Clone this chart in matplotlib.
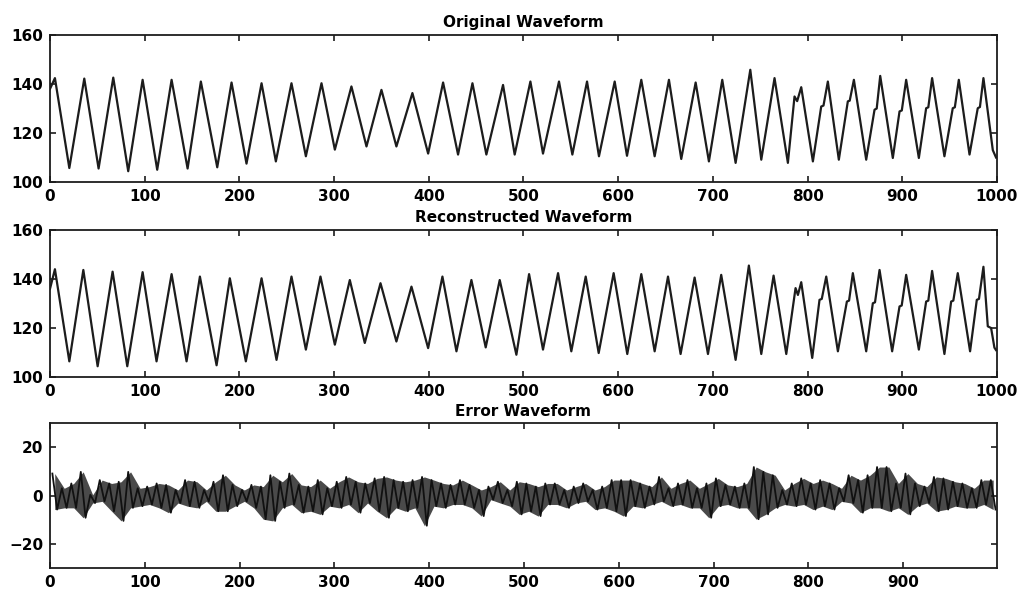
import numpy as np
import matplotlib
matplotlib.use("Agg")
import matplotlib.pyplot as plt
from matplotlib import rc

rc('font', **{'family': 'sans-serif', 'sans-serif': ['DejaVu Sans'], 'size': 11, 'weight': 'bold'})

# Original waveform: turning points (sample, value)
orig_t = [0, 5.2, 20.4, 36.2, 51.3, 66.8, 82.6, 97.8, 113.2, 128.4, 145.3, 159.3, 176.6,
          191.7, 207.5, 223.4, 238.5, 255.0, 270.2, 286.7, 300.8, 318.3, 334.2, 350.0,
          365.8, 382.7, 399.3, 415.1, 430.9, 446.1, 460.8, 478.4, 490.7, 507.3, 520.6,
          537.5, 551.6, 567.1, 579.7, 596.3, 609.3, 624.4, 638.5, 653.6, 666.6, 681.8,
          695.8, 709.9, 724.0, 739.5, 751.1, 765.1, 779.2, 786.2, 789.0, 793.3, 805.6,
          814.4, 816.8, 821.4, 833.0, 842.5, 844.5, 848.9, 861.9, 870.7, 873.0, 876.7,
          890.0, 897.1, 899.5, 904.1, 917.5, 925.2, 927.5, 931.5, 944.5, 953.3, 955.5,
          959.7, 971.0, 979.7, 982.0, 985.7, 995.6, 999.0]
orig_v = [138.0, 142.4, 105.7, 142.2, 105.5, 142.6, 104.4, 141.7, 105.0, 141.7, 105.5,
          141.0, 106.0, 140.6, 107.5, 140.3, 108.4, 140.3, 110.5, 140.3, 113.2, 139.0,
          114.5, 137.6, 114.5, 136.3, 111.6, 140.6, 111.2, 140.3, 111.2, 139.6, 111.2,
          141.0, 111.6, 141.0, 111.2, 141.0, 110.5, 141.0, 110.7, 141.7, 110.5, 141.7,
          109.4, 140.6, 108.4, 141.7, 107.8, 145.8, 109.1, 142.4, 107.8, 134.9, 133.0,
          138.7, 108.4, 130.8, 131.2, 141.0, 109.1, 132.9, 133.2, 141.7, 109.1, 129.5,
          130.0, 143.3, 109.8, 128.8, 129.2, 141.7, 109.8, 130.1, 130.5, 142.4, 110.5,
          130.1, 130.5, 141.7, 111.2, 130.1, 130.6, 142.4, 113.0, 110.0]

# Reconstructed waveform turning points
recon_t = [0, 5.2, 20.4, 35.2, 50.3, 66.1, 81.6, 97.8, 112.5, 128.4, 144.2, 158.3, 175.9,
           189.9, 206.8, 223.4, 239.2, 255.0, 270.2, 285.6, 300.8, 316.6, 332.4, 349.0,
           365.8, 381.7, 399.3, 414.4, 429.2, 445.0, 460.1, 474.9, 492.5, 505.9, 520.6,
           536.5, 550.5, 565.7, 579.4, 595.2, 609.6, 624.4, 638.5, 652.6, 665.9, 680.7,
           694.8, 708.8, 724.0, 738.0, 751.1, 764.1, 777.5, 787.3, 789.8, 793.3, 804.9,
           812.6, 815.0, 819.7, 832.0, 841.5, 843.8, 847.8, 861.9, 868.9, 871.2, 876.0,
           889.3, 897.1, 899.4, 904.1, 917.5, 925.2, 927.5, 931.5, 944.5, 951.6, 953.9,
           958.6, 971.6, 978.7, 981.0, 985.7, 990.3, 993.8, 997.3, 999.0]
recon_v = [136.0, 144.0, 106.4, 143.7, 104.4, 143.0, 104.4, 142.8, 106.4, 142.0, 106.4,
           141.0, 104.8, 140.3, 106.4, 140.3, 107.0, 141.0, 111.2, 141.0, 113.2, 139.6,
           113.9, 138.3, 114.5, 136.9, 111.8, 141.0, 110.5, 139.6, 112.1, 139.6, 109.1,
           142.0, 111.2, 142.4, 110.5, 141.0, 109.8, 142.4, 109.4, 142.0, 110.5, 141.0,
           109.4, 140.6, 109.4, 141.7, 107.0, 145.5, 109.4, 141.4, 109.4, 136.3, 133.5,
           138.7, 107.8, 131.5, 131.9, 141.0, 110.5, 130.8, 131.2, 142.4, 110.5, 130.1,
           130.5, 143.7, 110.5, 128.8, 129.2, 141.7, 111.2, 130.8, 131.2, 143.3, 109.4,
           130.8, 131.2, 142.4, 110.5, 131.5, 131.9, 145.0, 120.7, 120.0, 112.0, 111.0]

# Error waveform: upper / lower extreme in each block of 10 samples
err_hi = [9.2, 3.1, 5.1, 9.9, 0.4, 6.5, 5.1, 5.8, 9.9, 3.1,
          3.8, 5.1, 4.5, 2.4, 6.5, 5.8, 2.4, 5.8, 8.5, 4.5,
          2.4, 4.5, 3.8, 8.5, 5.8, 9.2, 4.5, 3.8, 6.5, 3.1,
          5.8, 7.8, 5.8, 5.1, 7.2, 7.8, 6.5, 5.8, 6.5, 7.8,
          6.5, 5.1, 4.5, 6.5, 4.5, 2.4, 3.8, 5.8, 2.4, 5.8,
          5.1, 3.8, 5.1, 5.1, 2.4, 3.8, 5.1, 2.4, 3.8, 6.5,
          6.5, 6.5, 5.1, 3.8, 7.8, 3.1, 5.1, 6.5, 3.1, 5.1,
          7.2, 4.5, 3.8, 5.1, 11.9, 9.9, 8.5, 2.4, 5.1, 7.2,
          5.1, 6.5, 5.1, 3.1, 8.5, 6.5, 8.5, 11.9, 11.9, 5.1,
          9.2, 5.1, 3.8, 7.8, 7.2, 5.8, 5.1, 3.1, 6.5, 6.5]
err_lo = [-5.7, -5.0, -5.0, -9.1, -3.0, -2.3, -6.4, -10.4, -5.0, -4.3,
          -3.6, -5.0, -7.0, -3.0, -4.3, -5.0, -2.3, -6.4, -6.4, -4.3,
          -2.3, -5.0, -9.7, -10.4, -5.0, -3.6, -7.0, -6.4, -7.7, -4.3,
          -5.0, -3.6, -7.0, -3.0, -6.4, -9.1, -5.0, -6.4, -5.0, -12.4,
          -4.3, -5.0, -3.6, -3.6, -5.0, -8.4, -1.6, -3.0, -4.3, -7.7,
          -6.4, -8.4, -3.6, -3.6, -5.0, -3.0, -2.3, -5.7, -5.0, -6.4,
          -8.4, -4.3, -5.0, -3.6, -2.3, -4.3, -3.6, -5.0, -5.0, -9.1,
          -4.3, -3.6, -5.0, -5.0, -9.7, -7.7, -5.0, -3.6, -4.3, -3.6,
          -5.7, -4.3, -5.7, -2.3, -3.0, -7.0, -5.0, -5.0, -6.4, -5.0,
          -7.7, -4.3, -3.0, -6.4, -5.7, -4.3, -5.0, -5.0, -3.6, -5.7]

block = 10
blk_t = np.arange(len(err_hi))*block + block/2.
err_t = []
err_v = []
for ii, (hi, lo) in enumerate(zip(err_hi, err_lo)):
    err_t += [ii*block + 2.5, ii*block + 7.5]
    err_v += [hi, lo]

fig = plt.figure(figsize=(10.31, 5.93), dpi=100)
fig.patch.set_facecolor('w')

lc = '#1c1c1c'
ax1 = fig.add_axes([0.0485, 0.6931, 0.9185, 0.2479])
ax2 = fig.add_axes([0.0485, 0.3642, 0.9185, 0.2479])
ax3 = fig.add_axes([0.0485, 0.0417, 0.9185, 0.2445])

ax1.plot(orig_t, orig_v, '-', color=lc, lw=1.6)
ax2.plot(recon_t, recon_v, '-', color=lc, lw=1.6)

# dark envelope of the noise + zig-zag through the block extremes
ax3.fill_between(blk_t, err_lo, err_hi, color='#4a4a4a', lw=0)
ax3.plot(err_t, err_v, '-', color='#111111', lw=1.3)

for ax in (ax1, ax2):
    ax.set_xlim(0, 1000)
    ax.set_ylim(100, 160)
    ax.set_xticks(np.arange(0, 1001, 100))
    ax.set_yticks([100, 120, 140, 160])

ax3.set_xlim(0, 999)
ax3.set_ylim(-30, 30)
ax3.set_xticks(np.arange(0, 901, 100))
ax3.set_yticks([-20, 0, 20])

ax1.set_title("Original Waveform", fontsize=11, fontweight='bold', pad=6)
ax2.set_title("Reconstructed Waveform", fontsize=11, fontweight='bold', pad=6)
ax3.set_title("Error Waveform", fontsize=11, fontweight='bold', pad=5)

for ax in (ax1, ax2, ax3):
    ax.tick_params(direction='in', top=True, right=True, length=4, width=1.2,
                   labelsize=11, pad=5, color=lc)
    for sp in ax.spines.values():
        sp.set_linewidth(1.3)
        sp.set_color(lc)

fig.savefig("out.png", dpi=100)
